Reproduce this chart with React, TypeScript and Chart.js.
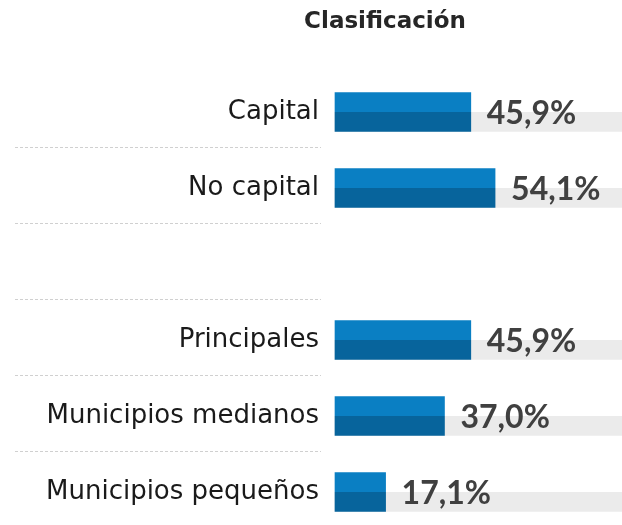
import { useEffect, useRef } from 'react';
import { Chart, registerables } from 'chart.js';
Chart.register(...registerables);

const title = 'Clasificación';
const categories = ['Capital', 'No capital', '', 'Principales', 'Municipios medianos', 'Municipios pequeños'];
const values = [45.9, 54.1, null, 45.9, 37.0, 17.1];
const valueLabels = ['45,9%', '54,1%', '', '45,9%', '37,0%', '17,1%'];
const trackValues = [97, 97, null, 97, 97, 97];
const axisMax = 97;

const BAR_H = 39;

function twoTone(top: string, bottom: string) {
  return (ctx: any) => {
    const chart = ctx.chart;
    const y = chart.scales && chart.scales.y;
    if (!chart.chartArea || !y || ctx.dataIndex === undefined) return bottom;
    const py = y.getPixelForValue(ctx.dataIndex);
    const g = chart.ctx.createLinearGradient(0, py - BAR_H / 2, 0, py + BAR_H / 2);
    g.addColorStop(0, top);
    g.addColorStop(0.5, top);
    g.addColorStop(0.5, bottom);
    g.addColorStop(1, bottom);
    return g;
  };
}

const decorPlugin = {
  id: 'decor',
  beforeDatasetsDraw(chart: any) {
    const ctx = chart.ctx;
    const y = chart.scales.y;
    ctx.save();
    ctx.strokeStyle = '#d0d0d0';
    ctx.lineWidth = 1;
    ctx.setLineDash([3, 2]);
    for (let i = 0; i < categories.length - 1; i++) {
      const py = Math.round((y.getPixelForValue(i) + y.getPixelForValue(i + 1)) / 2 - 3) + 0.5;
      ctx.beginPath();
      ctx.moveTo(15, py);
      ctx.lineTo(321, py);
      ctx.stroke();
    }
    ctx.restore();
  },
  afterDraw(chart: any) {
    const ctx = chart.ctx;
    ctx.save();
    ctx.fillStyle = '#262626';
    ctx.font = 'bold 23px "DejaVu Sans"';
    ctx.textAlign = 'center';
    ctx.textBaseline = 'middle';
    ctx.fillText(title, 385, 22);
    const meta = chart.getDatasetMeta(0);
    ctx.fillStyle = '#404040';
    ctx.font = 'bold 32px Lato';
    ctx.textAlign = 'left';
    meta.data.forEach((el: any, i: number) => {
      if (values[i] === null) return;
      ctx.fillText(valueLabels[i], el.x + 16, el.y + 2);
    });
    ctx.restore();
  },
};

export default function App() {
  const ref = useRef<HTMLCanvasElement>(null);
  useEffect(() => {
    if (!ref.current) return;
    const chart = new Chart(ref.current, {
      type: 'bar',
      data: {
        labels: categories,
        datasets: [
          {
            data: values as any,
            backgroundColor: twoTone('#0a7fc3', '#07649c'),
            barThickness: BAR_H,
            grouped: false,
            order: 0,
            clip: false as any,
          },
          {
            data: trackValues as any,
            backgroundColor: twoTone('rgba(255,255,255,0)', '#ebebeb'),
            barThickness: BAR_H,
            grouped: false,
            order: 1,
            clip: false as any,
          },
        ],
      },
      options: {
        indexAxis: 'y',
        animation: false,
        responsive: true,
        maintainAspectRatio: false,
        layout: { padding: { top: 112, bottom: 33, left: 0, right: 0 } },
        plugins: {
          legend: { display: false },
          tooltip: { enabled: false },
          title: { display: false },
        },
        scales: {
          x: { display: false, min: 0, max: axisMax },
          y: {
            type: 'category',
            offset: false,
            grid: { display: false, drawTicks: false },
            border: { display: false },
            ticks: {
              padding: 16,
              color: '#1a1a1a',
              font: { family: 'DejaVu Sans', size: 26 },
            },
            afterFit(scale: any) {
              scale.width = 335;
            },
          },
        },
      },
      plugins: [decorPlugin],
    });
    return () => chart.destroy();
  }, []);
  return (
    <div style={{ position: 'fixed', left: 0, top: 0, width: 622, height: 525 }}>
      <canvas ref={ref} />
    </div>
  );
}
